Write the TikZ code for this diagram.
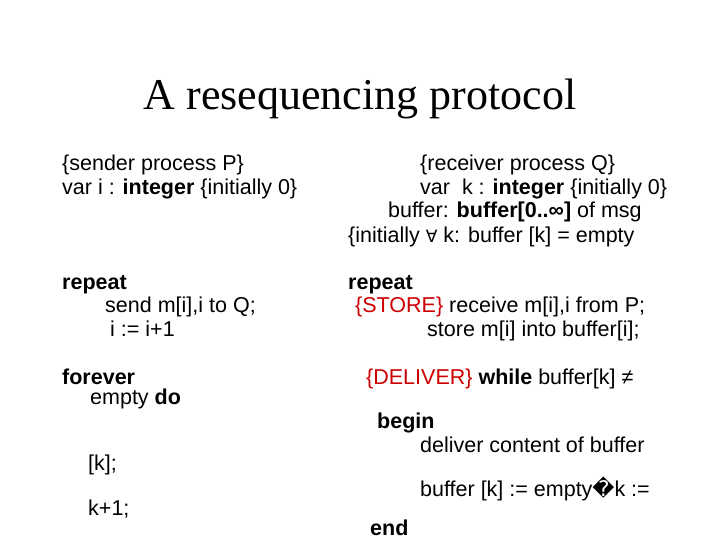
\documentclass[tikz,border=0pt]{standalone}
\usepackage{fontspec}
\setmainfont{Liberation Sans}
\newfontfamily\titlefont{Liberation Serif}
\newfontfamily\dvs{DejaVu Sans}
\begin{document}
\begin{tikzpicture}[x=1pt,y=-1pt,
  txt/.style={anchor=base west,inner sep=0pt,font=\fontsize{21.5}{24}\selectfont}]
\useasboundingbox (0,0) rectangle (720,540);
\node[anchor=base,inner sep=0pt,font=\titlefont\fontsize{44}{48}\selectfont] (title) at (360,110) {A resequencing protocol};
\node[txt] (s1) at (62,171) {\{sender process P\}};
\node[txt] (s2) at (62,195) {var i : \textbf{integer} \{initially 0\}};
\node[txt] (r1) at (420,171) {\{receiver process Q\}};
\node[txt] (r2) at (420,195) {var\ \ k : \textbf{integer} \{initially 0\}};
\node[txt] (r3) at (388,218) {buffer: \textbf{buffer[0..∞]} of msg};
\node[txt] (r4) at (348,243) {\{initially {\dvs\fontsize{17}{20}\selectfont ∀} k: buffer [k] = empty};
\node[txt] (s3) at (62,289) {\textbf{repeat}};
\node[txt] (s4) at (105,312) {send m[i],i to Q;};
\node[txt] (s5) at (110,336) {i := i+1};
\node[txt] (s6) at (62,384) {\textbf{forever}};
\node[txt] (s7) at (90,404) {empty \textbf{do}};
\node[txt] (r5) at (348,289) {\textbf{repeat}};
\node[txt] (r6) at (355,312) {\textcolor[RGB]{204,0,0}{\{STORE\}} receive m[i],i from P;};
\node[txt] (r7) at (427,336) {store m[i] into buffer[i];};
\node[txt] (r8) at (366,384) {\textcolor[RGB]{204,0,0}{\{DELIVER\}} \textbf{while} buffer[k] ≠};
\node[txt] (r9) at (377,428) {\textbf{begin}};
\node[txt] (r10) at (420,452) {deliver content of buffer};
\node[txt] (s8) at (88,470) {[k];};
\node[txt] (r11) at (420,496) {buffer [k] := empty{\dvs\char"FFFD}k :=};
\node[txt] (s9) at (88,515) {k+1;};
\node[txt] (r12) at (370,535) {\textbf{end}};
\end{tikzpicture}
\end{document}
